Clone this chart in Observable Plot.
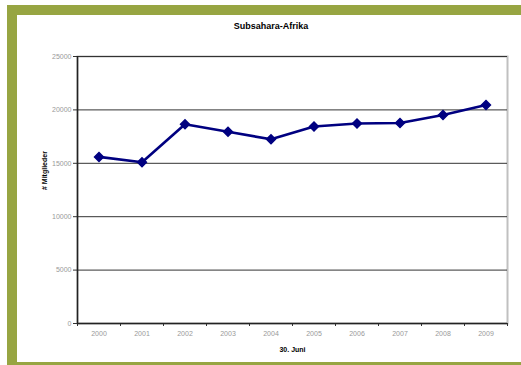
<!DOCTYPE html>
<html>
<head>
<meta charset="utf-8">
<script src="https://cdn.jsdelivr.net/npm/d3@7"></script>
<script src="https://cdn.jsdelivr.net/npm/@observablehq/plot@0.6"></script>
<style>
  html, body { margin: 0; padding: 0; background: #fff; }
  #page { position: relative; width: 521px; height: 365px; overflow: hidden; font-family: "Liberation Sans", Arial, sans-serif; }
  .band { position: absolute; background: #97a542; }
  #title { position: absolute; left: 0; width: 542px; top: 21px; text-align: center; font-weight: bold; font-size: 9px; color: #000; }
  #chart { position: absolute; left: 0; top: 0; }
</style>
</head>
<body>
<div id="page">
  <div id="chart"></div>
  <div class="band" style="left:7px; top:5px; width:514px; height:10px;"></div>
  <div class="band" style="left:7px; top:5px; width:10px; height:360px;"></div>
  <div class="band" style="left:7px; top:362px; width:514px; height:3px;"></div>
  <div id="title">Subsahara-Afrika</div>
</div>
<script>
const years = [2000, 2001, 2002, 2003, 2004, 2005, 2006, 2007, 2008, 2009];
const members = [15600, 15100, 18650, 17950, 17250, 18450, 18730, 18770, 19520, 20460];
const yTicks = [0, 5000, 10000, 15000, 20000, 25000];
const xTitle = "30. Juni";
const yTitle = "# Mitglieder";

const data = years.map((y, i) => ({year: y, value: members[i]}));
const bounds = years.map(y => y - 0.5).concat([years[years.length - 1] + 0.5]);

const chart = Plot.plot({
  width: 521,
  height: 365,
  marginLeft: 77,
  marginRight: 14,
  marginTop: 56,
  marginBottom: 42,
  style: {fontFamily: "Liberation Sans, Arial, sans-serif", background: "transparent", overflow: "visible"},
  x: {type: "linear", domain: [years[0] - 0.5, years[years.length - 1] + 0.5]},
  y: {domain: [0, 25000]},
  marks: [
    Plot.frame({stroke: "#c0c0c0", strokeWidth: 2}),
    Plot.gridY(yTicks, {stroke: "#333", strokeOpacity: 1, strokeWidth: 1}),
    Plot.axisY(yTicks, {tickSize: 4, tickPadding: 2, fontSize: 7, color: "#999", stroke: "#333", label: null, tickFormat: d => String(d)}),
    Plot.axisX(bounds, {tickSize: 3, tickFormat: () => "", stroke: "#333", label: null}),
    Plot.axisX(years, {tickSize: 0, tickPadding: 8, fontSize: 7, color: "#999", label: null, tickFormat: d => String(d)}),
    Plot.ruleX([years[0] - 0.5], {stroke: "#222", strokeWidth: 1.5}),
    Plot.ruleY([0], {stroke: "#222", strokeWidth: 1.5}),
    Plot.line(data, {x: "year", y: "value", stroke: "#000080", strokeWidth: 2.6}),
    Plot.dot(data, {x: "year", y: "value", symbol: "diamond2", r: 4, fill: "#000080", stroke: "#000080"}),
    Plot.text([xTitle], {frameAnchor: "bottom", dy: 28, fontSize: 7, fontWeight: "bold", fill: "#000"}),
    Plot.text([yTitle], {frameAnchor: "left", dx: -33, rotate: -90, fontSize: 7, fontWeight: "bold", fill: "#000"})
  ]
});
document.getElementById("chart").appendChild(chart);
</script>
</body>
</html>
